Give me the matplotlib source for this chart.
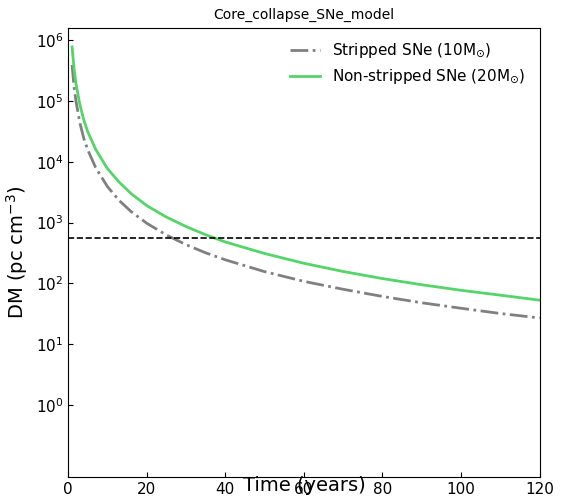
import matplotlib.pyplot as plt
import numpy as np

# values
time_yr = [1, 1.5, 2, 3, 4, 5, 7, 10, 13, 16, 20, 25, 30, 35, 40, 50, 60, 70, 80, 90, 100, 110, 120]
dm_stripped = [3.9e5, 1.7e5, 9.8e4, 4.3e4, 2.4e4, 1.56e4, 8.0e3, 3.9e3, 2.3e3, 1.52e3, 975, 624, 433,
               318, 244, 156, 108, 80, 61, 48, 39, 32, 27]
dm_nonstripped = [7.7e5, 3.4e5, 1.9e5, 8.6e4, 4.8e4, 3.1e4, 1.6e4, 7.7e3, 4.6e3, 3.0e3, 1.9e3, 1.23e3, 860,
                  630, 480, 310, 214, 157, 120, 95, 77, 64, 53]
dm_threshold = 560

fig, ax = plt.subplots(figsize=(5.68, 5.03), dpi=100)
fig.subplots_adjust(left=0.12, right=0.95, top=0.945, bottom=0.052)

ax.plot(time_yr, dm_stripped, color="gray", linestyle="-.", linewidth=2,
        label=r"Stripped SNe (10M$_{\odot}$)")
ax.plot(time_yr, dm_nonstripped, color="#55d46a", linewidth=2,
        label=r"Non-stripped SNe (20M$_{\odot}$)")
ax.axhline(dm_threshold, color="black", linestyle="--", linewidth=1.2)

ax.set_yscale("log")
ax.set_xlim(0, 120)
ax.set_ylim(0.066, 1.6e6)
ax.set_yticks([1e0, 1e1, 1e2, 1e3, 1e4, 1e5, 1e6])
ax.minorticks_off()
ax.tick_params(direction="in", labelsize=11)
ax.set_xlabel("Time (years)", fontsize=14, labelpad=-15)
ax.set_ylabel(r"DM (pc cm$^{-3}$)", fontsize=14)
ax.set_title("Core_collapse_SNe_model", fontsize=10)
ax.legend(frameon=False, fontsize=11)

fig.savefig("out.png", dpi=100)
